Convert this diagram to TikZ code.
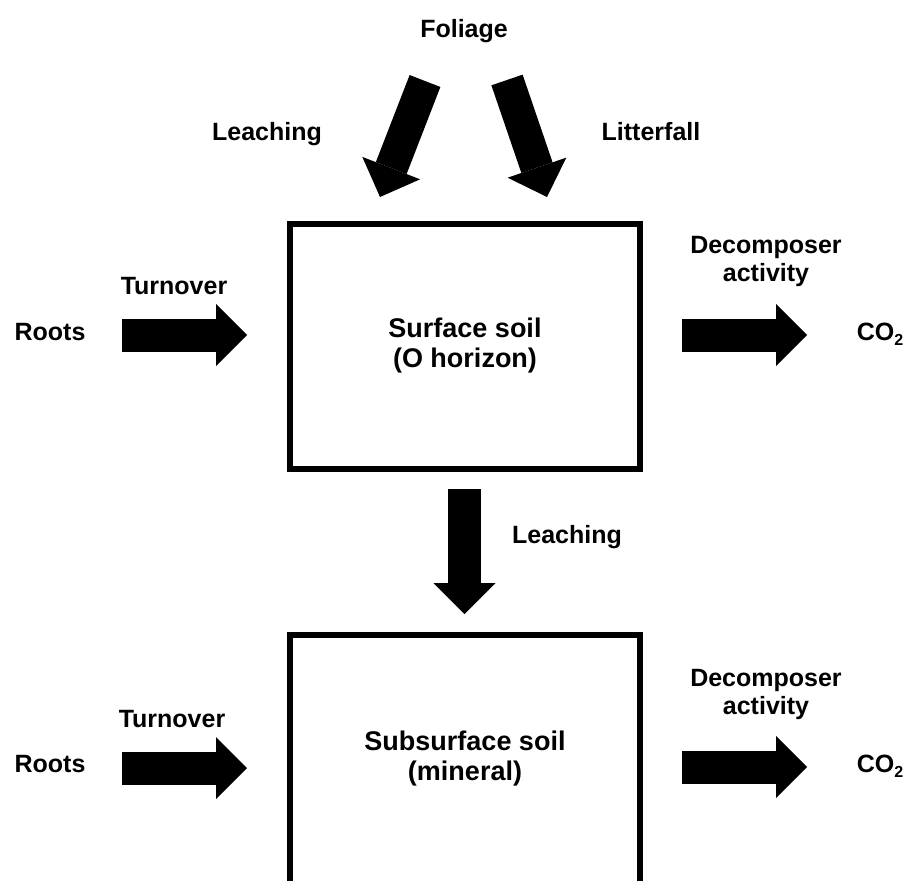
\documentclass[tikz,border=0pt]{standalone}
\usepackage{fontspec}
\setmainfont{Liberation Sans}
\usetikzlibrary{arrows.meta}
\newcommand{\subtwo}{\raisebox{-5pt}{\fontsize{16}{16}\selectfont 2}}
\begin{document}
\begin{tikzpicture}[x=1pt,y=-1pt,
  lbl/.style={font=\fontsize{25}{28}\selectfont\bfseries, anchor=base, inner sep=0pt, align=center},
  boxtext/.style={font=\fontsize{27}{30}\selectfont\bfseries, anchor=base, inner sep=0pt, align=center},
  soilbox/.style={draw, line width=6pt, inner sep=0pt, minimum width=350.5pt},
  blockarrow/.style={line width=33pt, -{Triangle[length=31pt,width=62pt,line width=0pt]}}]
\useasboundingbox (0,0) rectangle (912,880);
\clip (0,0) rectangle (912,880);
% boxes
\node[soilbox, minimum height=245pt] (surface) at (464.75,346.5) {};
\node[soilbox, minimum height=265pt] (subsurface) at (464.75,767.5) {};
% texts (multi-line nodes: base = baseline of last line)
\node[lbl] (foliage) at (464,38) {Foliage};
\node[lbl] (leach1) at (267,140) {Leaching};
\node[lbl] (litter) at (651,140) {Litterfall};
\node[lbl] (turn1) at (174,294) {Turnover};
\node[lbl] (roots1) at (50,340) {Roots};
\node[boxtext] (surftext) at (465,367) {Surface soil\\(O horizon)};
\node[lbl] (decomp1) at (766,281) {Decomposer\\activity};
\node[lbl] (co2a) at (880,340) {CO\subtwo};
\node[lbl] (leach2) at (567,543) {Leaching};
\node[lbl] (turn2) at (172,727) {Turnover};
\node[lbl] (roots2) at (50,772) {Roots};
\node[boxtext] (subtext) at (465,780) {Subsurface soil\\(mineral)};
\node[lbl] (decomp2) at (766,714) {Decomposer\\activity};
\node[lbl] (co2b) at (880,772) {CO\subtwo};
% arrow ends
\coordinate (lf0) at (425,81);   \coordinate (lf1) at (380,197);
\coordinate (rf0) at (507,80);   \coordinate (rf1) at (547,197);
\coordinate (rt0) at (122,335);  \coordinate (rt1) at (247,335);
\coordinate (dc0) at (682,335);  \coordinate (dc1) at (807,335);
\coordinate (mid0) at (464.5,489); \coordinate (mid1) at (464.5,614);
\coordinate (rb0) at (122,768);  \coordinate (rb1) at (247,768);
\coordinate (db0) at (682,767);  \coordinate (db1) at (807,767);
% arrows
\draw[blockarrow] (lf0) -- (lf1);
\draw[blockarrow] (rf0) -- (rf1);
\draw[blockarrow] (rt0) -- (rt1);
\draw[blockarrow] (dc0) -- (dc1);
\draw[blockarrow] (mid0) -- (mid1);
\draw[blockarrow] (rb0) -- (rb1);
\draw[blockarrow] (db0) -- (db1);
\end{tikzpicture}
\end{document}
